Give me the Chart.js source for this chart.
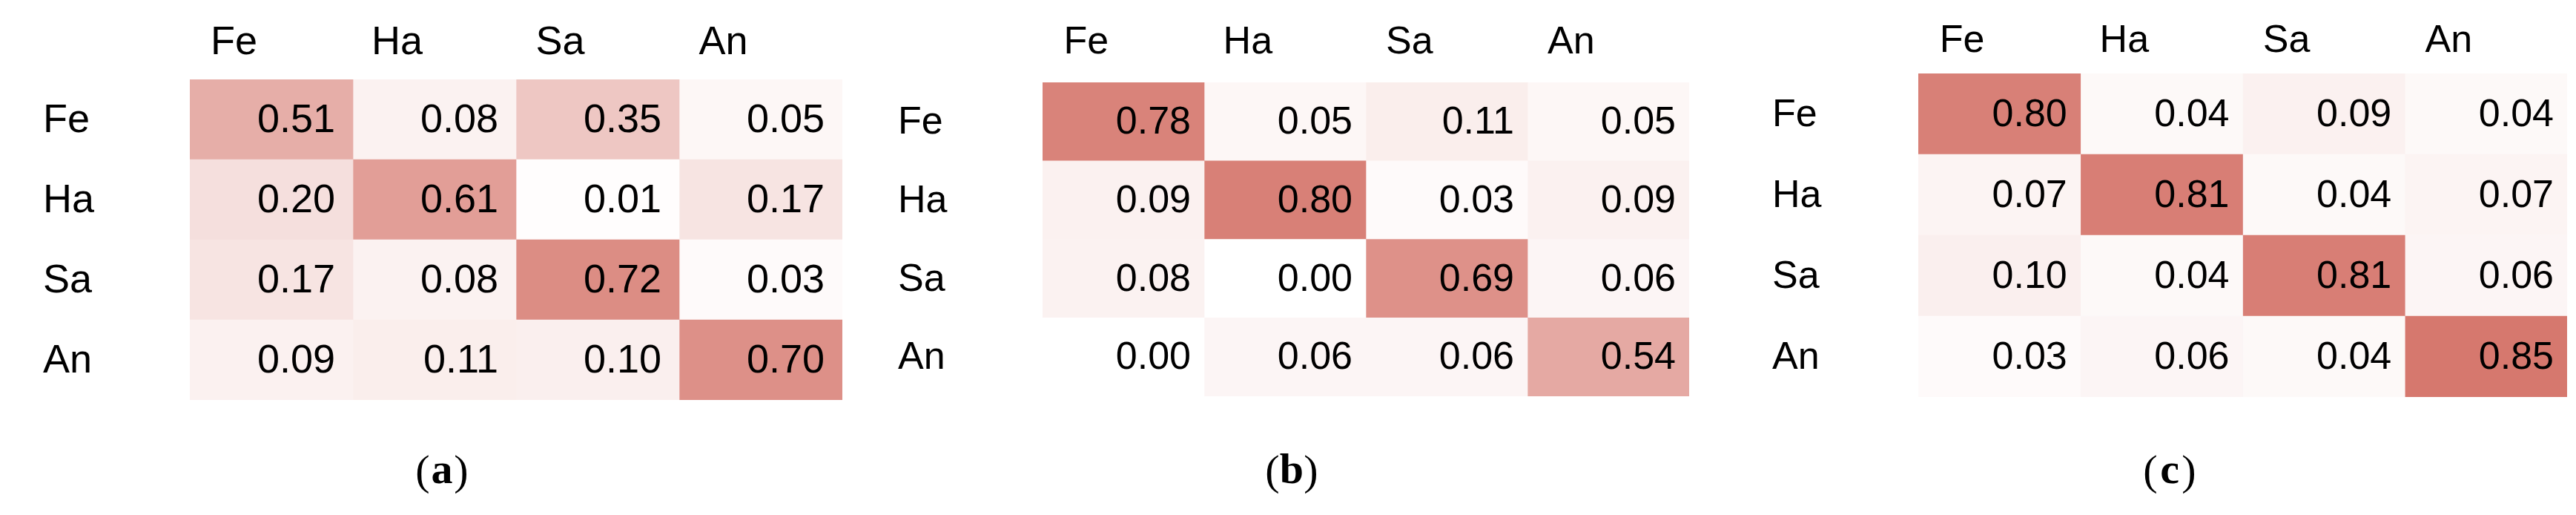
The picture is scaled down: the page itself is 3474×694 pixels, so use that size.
<!DOCTYPE html>
<html>
<head>
<meta charset="UTF-8">
<script src="https://cdn.jsdelivr.net/npm/chart.js@4.4.0/dist/chart.umd.min.js"></script>
<style>
  * { margin: 0; padding: 0; }
  body { width: 3474px; height: 694px; background: #fff; position: relative; overflow: hidden; }
  .panel { position: absolute; left: 0; top: 0; width: 3474px; height: 694px; }
</style>
</head>
<body>
<div class="panel"><canvas id="a"></canvas></div>
<div class="panel"><canvas id="b"></canvas></div>
<div class="panel"><canvas id="c"></canvas></div>
<script>
// ── Data ─────────────────────────────────────────────────────────────────────
const classes = ["Fe", "Ha", "Sa", "An"];
const matrixA = [
  [0.51, 0.08, 0.35, 0.05],
  [0.20, 0.61, 0.01, 0.17],
  [0.17, 0.08, 0.72, 0.03],
  [0.09, 0.11, 0.10, 0.70],
];
const matrixB = [
  [0.78, 0.05, 0.11, 0.05],
  [0.09, 0.80, 0.03, 0.09],
  [0.08, 0.00, 0.69, 0.06],
  [0.00, 0.06, 0.06, 0.54],
];
const matrixC = [
  [0.80, 0.04, 0.09, 0.04],
  [0.07, 0.81, 0.04, 0.07],
  [0.10, 0.04, 0.81, 0.06],
  [0.03, 0.06, 0.04, 0.85],
];

// ── Colour scale: white → salmon red ─────────────────────────────────────────
function cellColor(v) {
  const t = Math.min(v / 0.85, 1);
  const r = Math.round(255 - t * 41);
  const g = Math.round(255 - t * 135);
  const b = Math.round(255 - t * 145);
  return `rgb(${r},${g},${b})`;
}

// ── Text plugin: headers, row labels, values, caption ────────────────────────
const labelsPlugin = {
  id: "cmLabels",
  afterDatasetsDraw(chart, args, opts) {
    const { ctx } = chart;
    const x = chart.scales.x, y = chart.scales.y;
    const m = opts.matrix;
    ctx.save();
    ctx.fillStyle = "#000";
    ctx.textBaseline = "middle";
    ctx.font = `${opts.size}px "Liberation Sans", Arial, sans-serif`;
    // column headers
    ctx.textAlign = "center";
    classes.forEach((c, i) => {
      ctx.fillText(c, x.getPixelForValue(i + 0.27), opts.headY);
    });
    // row labels
    ctx.textAlign = "left";
    classes.forEach((c, j) => {
      ctx.fillText(c, opts.rowX, y.getPixelForValue(j) + 2);
    });
    // values
    ctx.textAlign = "right";
    m.forEach((row, j) => {
      row.forEach((v, i) => {
        ctx.fillText(v.toFixed(2), x.getPixelForValue(i + 1) - opts.pad, y.getPixelForValue(j) + 2);
      });
    });
    // caption
    ctx.textAlign = "center";
    ctx.font = `58px "Liberation Serif", "DejaVu Serif", serif`;
    ctx.fillText("(", opts.capX - 26, 638);
    ctx.fillText(")", opts.capX + 26, 638);
    ctx.font = `bold 58px "Liberation Serif", "DejaVu Serif", serif`;
    ctx.fillText(opts.cap, opts.capX, 636);
    ctx.restore();
  },
};

function makeChart(id, matrix, box, text) {
  const datasets = classes.map((col, i) => ({
    label: col,
    data: matrix.map((row) => 1),
    backgroundColor: matrix.map((row) => cellColor(row[i])),
    borderWidth: 0,
    barPercentage: 1,
    categoryPercentage: 1,
  }));
  new Chart(document.getElementById(id), {
    type: "bar",
    data: { labels: classes, datasets },
    plugins: [labelsPlugin],
    options: {
      indexAxis: "y",
      responsive: true,
      maintainAspectRatio: false,
      animation: false,
      layout: {
        padding: { left: box.left, right: 3474 - box.right, top: box.top, bottom: 694 - box.bottom },
      },
      plugins: {
        legend: { display: false },
        tooltip: { enabled: false },
        cmLabels: { matrix, ...text },
      },
      scales: {
        x: { stacked: true, min: 0, max: 4, display: false },
        y: { stacked: true, display: false },
      },
    },
  });
}

makeChart("a", matrixA, { left: 256, right: 1136, top: 107, bottom: 539 },
  { size: 54, headY: 58, rowX: 58, pad: 24, cap: "a", capX: 596 });
makeChart("b", matrixB, { left: 1406, right: 2278, top: 111, bottom: 534 },
  { size: 52, headY: 58, rowX: 1211, pad: 18, cap: "b", capX: 1742 });
makeChart("c", matrixC, { left: 2587, right: 3462, top: 99, bottom: 535 },
  { size: 52, headY: 56, rowX: 2390, pad: 18, cap: "c", capX: 2926 });
</script>
</body>
</html>
